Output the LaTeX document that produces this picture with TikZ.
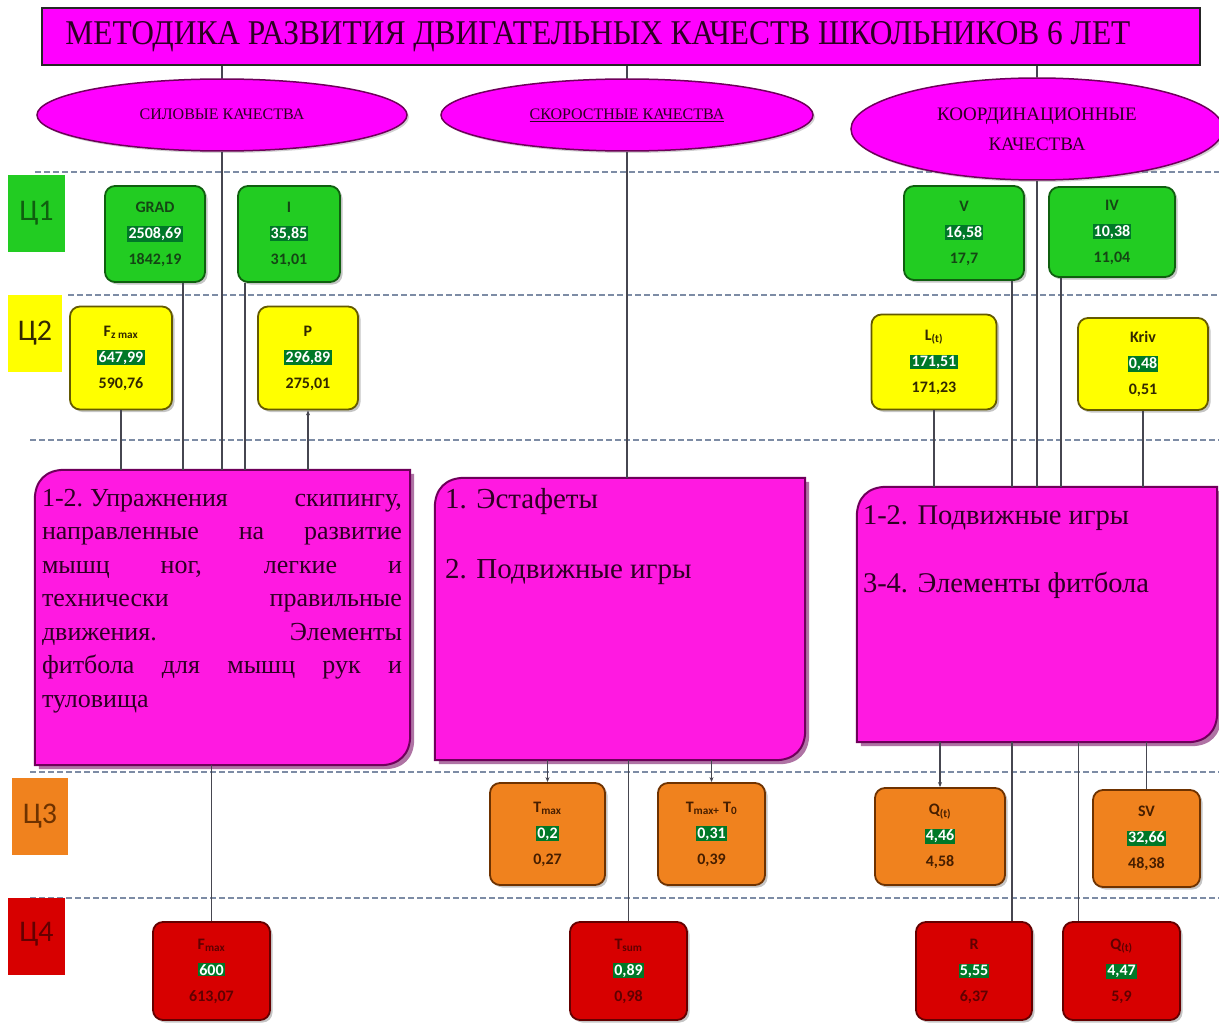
\documentclass[tikz,border=0pt]{standalone}
\usepackage{fontspec}
\usepackage{graphicx}
\setmainfont{Liberation Serif}
\newfontfamily\calfont{Carlito}
\usetikzlibrary{shapes.geometric,shadows,calc,arrows.meta}

\definecolor{mag}{RGB}{255,0,255}
\definecolor{magb}{RGB}{255,25,225}
\definecolor{purp}{RGB}{110,0,90}
\definecolor{txtp}{RGB}{45,0,35}
\definecolor{gfill}{RGB}{34,204,34}
\definecolor{gdark}{RGB}{15,95,15}
\definecolor{gtext}{RGB}{20,70,20}
\definecolor{hlg}{RGB}{0,120,40}
\definecolor{yfill}{RGB}{255,255,0}
\definecolor{ydark}{RGB}{100,90,0}
\definecolor{ytext}{RGB}{50,40,0}
\definecolor{ofill}{RGB}{240,130,30}
\definecolor{odark}{RGB}{110,50,0}
\definecolor{otext}{RGB}{70,30,0}
\definecolor{rfill}{RGB}{215,0,0}
\definecolor{rdark}{RGB}{100,0,0}
\definecolor{rtext}{RGB}{95,0,0}
\definecolor{dashc}{RGB}{125,140,165}
\definecolor{linec}{RGB}{70,70,80}

\newcommand{\hlnum}[1]{{\setlength{\fboxsep}{1.2pt}\colorbox{hlg}{\textcolor{white}{#1}}}}

\begin{document}
\begin{tikzpicture}[x=1pt,y=-1pt,
  dashline/.style={draw=dashc, line width=2pt, dash pattern=on 6pt off 3pt},
  titlebox/.style={rectangle, fill=mag, draw=black!85, line width=2pt, text=txtp, inner sep=0pt},
  ell/.style={ellipse, fill=mag, draw=purp, line width=1.5pt, text=txtp, align=center, inner sep=0pt,
    drop shadow={opacity=0.35, shadow xshift=2pt, shadow yshift=-2pt}},
  mbox/.style={rectangle, rounded corners=10pt, line width=1.8pt, align=center, inner sep=0pt,
    font=\calfont\bfseries\fontsize{16}{26}\selectfont,
    drop shadow={opacity=0.45, shadow xshift=2.5pt, shadow yshift=-2.5pt}},
  gbox/.style={mbox, fill=gfill, draw=gdark, text=gtext},
  ybox/.style={mbox, fill=yfill, draw=ydark, text=ytext},
  obox/.style={mbox, fill=ofill, draw=odark, text=otext},
  rbox/.style={mbox, fill=rfill, draw=rdark, text=rtext},
  rowlab/.style={rectangle, inner sep=0pt, font=\calfont\fontsize{30}{30}\selectfont},
  tbnode/.style={rectangle, inner sep=0pt, draw=none},
  tbdraw/.style={fill=magb, draw=purp, line width=2pt,
    drop shadow={opacity=0.55, shadow xshift=4pt, shadow yshift=-4pt, fill=purp}},
  tbshape/.style={insert path={(#1.south west) -- ([yshift=-30pt]#1.north west)
    .. controls ([yshift=-11pt]#1.north west) and ([xshift=11pt]#1.north west) .. ([xshift=30pt]#1.north west)
    -- (#1.north east) -- ([yshift=30pt]#1.south east)
    .. controls ([yshift=11pt]#1.south east) and ([xshift=-11pt]#1.south east) .. ([xshift=-30pt]#1.south east)
    -- cycle}},
  tbtext/.style={anchor=north west, inner sep=0pt, text=txtp},
  conn/.style={draw=linec, line width=1.1pt},
  carr/.style={conn, -{Stealth[length=5pt,width=4pt]}}
]
\useasboundingbox (0,0) rectangle (1219,1030);
\fill[white] (0,0) rectangle (1219,1030);

% dashed level lines
\draw[dashline] (35,172) -- (1219,172);
\draw[dashline] (68,295) -- (1219,295);
\draw[dashline] (30,440) -- (1219,440);
\draw[dashline] (30,772) -- (1219,772);
\draw[dashline] (30,898) -- (1219,898);

% title
\node[titlebox, minimum width=1158pt, minimum height=57pt] (title) at (621,36.5)
  {\resizebox{1065pt}{23pt}{МЕТОДИКА РАЗВИТИЯ ДВИГАТЕЛЬНЫХ КАЧЕСТВ ШКОЛЬНИКОВ 6 ЛЕТ}\hspace*{46pt}};

% ellipses
\node[ell, minimum width=370pt, minimum height=72pt, font=\fontsize{16}{18}\selectfont] (eL) at (222,115)
  {\raisebox{1pt}{СИЛОВЫЕ КАЧЕСТВА}};
\node[ell, minimum width=372pt, minimum height=72pt, font=\fontsize{16}{18}\selectfont] (eM) at (627,115)
  {\underline{СКОРОСТНЫЕ КАЧЕСТВА}};
\node[ell, minimum width=372pt, minimum height=102pt, font=\fontsize{19}{30}\selectfont] (eR) at (1037,129)
  {КООРДИНАЦИОННЫЕ\\КАЧЕСТВА};

% row labels
\node[rowlab, fill=gfill, text=gdark, minimum width=57pt, minimum height=77pt] (C1) at (36.5,213.5) {\raisebox{6pt}{Ц1}};
\node[rowlab, fill=yfill, text=ytext, minimum width=54pt, minimum height=77pt] (C2) at (35,333.5) {\raisebox{6pt}{Ц2}};
\node[rowlab, fill=ofill, text=odark, minimum width=56pt, minimum height=77pt] (C3) at (40,816.5) {\raisebox{6pt}{Ц3}};
\node[rowlab, fill=rfill, text=rdark, minimum width=57pt, minimum height=77pt] (C4) at (36.5,936.5) {\raisebox{10pt}{Ц4}};

% level 1
\node[gbox, minimum width=100pt, minimum height=96pt] (GRAD) at (155,234) {GRAD\\\hlnum{2508,69}\\1842,19};
\node[gbox, minimum width=102pt, minimum height=96pt] (I) at (289,234) {I\\\hlnum{35,85}\\31,01};
\node[gbox, minimum width=120pt, minimum height=94pt] (V) at (964,233) {V\\\hlnum{16,58}\\17,7};
\node[gbox, minimum width=126pt, minimum height=90pt] (IV) at (1112,232) {IV\\\hlnum{10,38}\\11,04};

% level 2
\node[ybox, minimum width=102pt, minimum height=103pt] (Fz) at (121,358) {F\textsubscript{z max}\\\hlnum{647,99}\\590,76};
\node[ybox, minimum width=100pt, minimum height=103pt] (P) at (308,358) {P\\\hlnum{296,89}\\275,01};
\node[ybox, minimum width=125pt, minimum height=95pt] (Lt) at (934,362) {L\textsubscript{(t)}\\\hlnum{171,51}\\171,23};
\node[ybox, minimum width=130pt, minimum height=92pt] (Kriv) at (1143,364) {Kriv\\\hlnum{0,48}\\0,51};

% text boxes
\node[tbnode, minimum width=375pt, minimum height=295pt] (tL) at (222.5,617.5) {};
\draw[tbdraw, tbshape=tL];
\node[tbnode, minimum width=370pt, minimum height=282pt] (tM) at (620,619) {};
\draw[tbdraw, tbshape=tM];
\node[tbnode, minimum width=360pt, minimum height=255pt] (tR) at (1037,614.5) {};
\draw[tbdraw, tbshape=tR];

\node[tbtext, text width=360pt, align=justify, font=\fontsize{26}{33.5}\selectfont] (txL) at ([xshift=7pt,yshift=-19pt]tL.north west)
  {1-2.\hspace{7pt}Упражнения скипингу,\linebreak направленные на развитие\linebreak мышц ног, легкие и\linebreak технически правильные\linebreak движения. Элементы\linebreak фитбола для мышц рук и\linebreak туловища};
\node[tbtext, align=left, font=\fontsize{29}{70}\selectfont] (txM) at ([xshift=10pt,yshift=-10pt]tM.north west)
  {1. Эстафеты\\2. Подвижные игры};
\node[tbtext, align=left, font=\fontsize{28.5}{68}\selectfont] (txR) at ([xshift=6pt,yshift=-19pt]tR.north west)
  {1-2. Подвижные игры\\3-4. Элементы фитбола};

% level 3
\node[obox, minimum width=115pt, minimum height=102pt] (Tmax) at (547.5,834) {T\textsubscript{max}\\\hlnum{0,2}\\0,27};
\node[obox, minimum width=107pt, minimum height=102pt] (TmT0) at (711.5,834) {T\textsubscript{max+} T\textsubscript{0}\\\hlnum{0,31}\\0,39};
\node[obox, minimum width=130pt, minimum height=97pt] (Qt3) at (940,836.5) {Q\textsubscript{(t)}\\\hlnum{4,46}\\4,58};
\node[obox, minimum width=107pt, minimum height=97pt] (SV) at (1146.5,838.5) {SV\\\hlnum{32,66}\\48,38};

% level 4
\node[rbox, minimum width=117pt, minimum height=98pt] (Fmax) at (211.5,971) {F\textsubscript{max}\\\hlnum{600}\\613,07};
\node[rbox, minimum width=117pt, minimum height=98pt] (Tsum) at (628.5,971) {T\textsubscript{sum}\\\hlnum{0,89}\\0,98};
\node[rbox, minimum width=116pt, minimum height=98pt] (R) at (974,971) {R\\\hlnum{5,55}\\6,37};
\node[rbox, minimum width=117pt, minimum height=98pt] (Qt4) at (1121.5,971) {Q\textsubscript{(t)}\\\hlnum{4,47}\\5,9};

% connectors: title to ellipses
\draw[conn] (title.south -| eL.north) -- (eL.north);
\draw[conn] (title.south -| eM.north) -- (eM.north);
\draw[conn] (title.south -| eR.north) -- (eR.north);
% upper connectors
\draw[conn] (eL.south) -- (eL.south |- tL.north);
\draw[conn] ([xshift=28pt]GRAD.south) -- ([xshift=28pt]GRAD.south |- tL.north);
\draw[conn] ([xshift=-44pt]I.south) -- ([xshift=-44pt]I.south |- tL.north);
\draw[conn] (Fz.south) -- (Fz.south |- tL.north);
\draw[carr] (P.south |- tL.north) -- (P.south);
\draw[conn] (eM.south) -- (eM.south |- tM.north);
\draw[conn] (eR.south) -- (eR.south |- tR.north);
\draw[conn] ([xshift=48pt]V.south) -- ([xshift=48pt]V.south |- tR.north);
\draw[conn] ([xshift=-51pt]IV.south) -- ([xshift=-51pt]IV.south |- tR.north);
\draw[conn] (Lt.south) -- (Lt.south |- tR.north);
\draw[conn] (Kriv.south) -- (Kriv.south |- tR.north);
% lower connectors
\draw[conn] (Fmax.north |- tL.south) -- (Fmax.north);
\draw[carr] (Tmax.north |- tM.south) -- (Tmax.north);
\draw[conn] (Tsum.north |- tM.south) -- (Tsum.north);
\draw[carr] (TmT0.north |- tM.south) -- (TmT0.north);
\draw[carr] (Qt3.north |- tR.south) -- (Qt3.north);
\draw[conn] ([xshift=38pt]R.north |- tR.south) -- ([xshift=38pt]R.north);
\draw[conn] ([xshift=-43pt]Qt4.north |- tR.south) -- ([xshift=-43pt]Qt4.north);
\draw[conn] (SV.north |- tR.south) -- (SV.north);
\end{tikzpicture}
\end{document}
